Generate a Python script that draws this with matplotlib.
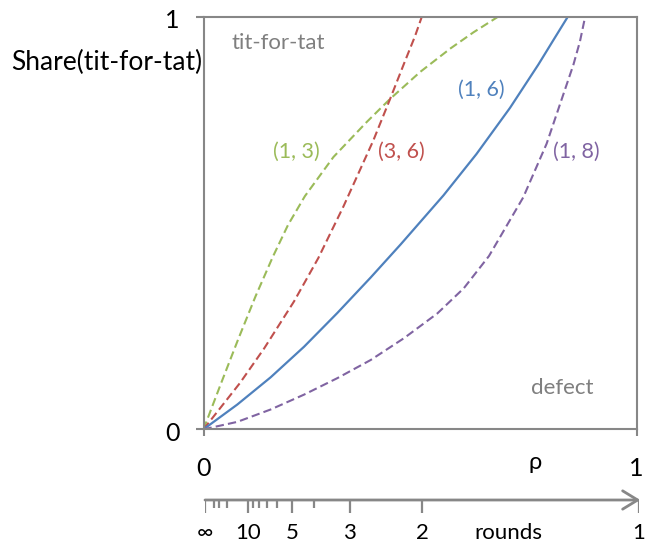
import numpy as np
import matplotlib.pyplot as plt

# Fuente parecida a Calibri
plt.rcParams.update({'font.family': ['Lato', 'DejaVu Sans'], 'font.size': 16})

GRIS = '#878787'
GRIS_TEXTO = '#7f7f7f'

# Curvas: rho -> Share(tit-for-tat)
rho_13 = [0, 0.04, 0.08, 0.12, 0.16, 0.195, 0.234, 0.30, 0.377, 0.43, 0.50, 0.57, 0.623, 0.68]
share_13 = [0, 0.11, 0.218, 0.322, 0.418, 0.495, 0.565, 0.66, 0.745, 0.80, 0.866, 0.923, 0.962, 1.0]

rho_36 = [0, 0.084, 0.14, 0.209, 0.265, 0.323, 0.392, 0.4305, 0.465, 0.488, 0.504]
share_36 = [0, 0.112, 0.196, 0.31, 0.415, 0.54, 0.70, 0.80, 0.892, 0.952, 1.0]

rho_16 = [0, 0.078, 0.155, 0.232, 0.309, 0.386, 0.455, 0.554, 0.63, 0.7075, 0.773, 0.8075, 0.841]
share_16 = [0, 0.06, 0.126, 0.2, 0.282, 0.368, 0.448, 0.567, 0.667, 0.779, 0.884, 0.943, 1.0]

rho_18 = [0, 0.078, 0.155, 0.232, 0.309, 0.386, 0.463, 0.54, 0.601, 0.659, 0.738, 0.792, 0.854, 0.869, 0.879]
share_18 = [0, 0.018, 0.048, 0.084, 0.124, 0.168, 0.221, 0.281, 0.342, 0.42, 0.562, 0.692, 0.884, 0.94, 0.99]

etiquetas = ['(1, 3)', '(3, 6)', '(1, 6)', '(1, 8)']

# Eje de rondas: rho = 1 / rondas
rondas_largas = [np.inf, 10, 5, 3, 2, 1]
rondas_texto = ['∞', '10', '5', '3', '2', '1']
rondas_cortas = [50, 30, 20, 9, 8, 7, 6, 4]

fig = plt.figure(figsize=(6.45, 5.44), dpi=100)
ax = fig.add_axes([203.5 / 645, (544 - 429.3) / 544, 433.2 / 645, 412.6 / 544])
ax.set_xlim(0, 1)
ax.set_ylim(0, 1)
for s in ax.spines.values():
    s.set_color(GRIS)
    s.set_linewidth(1.5)

guion = (0, (4, 2))
ax.plot(rho_13, share_13, color='#9BBB59', lw=1.5, ls=guion)
ax.plot(rho_36, share_36, color='#C0504D', lw=1.5, ls=guion)
ax.plot(rho_16, share_16, color='#4F81BD', lw=1.6)
ax.plot(rho_18, share_18, color='#8064A2', lw=1.5, ls=guion)

# etiquetas de las curvas
ax.text(0.215, 0.673, etiquetas[0], color='#9BBB59', ha='center', va='center', fontsize=15.5)
ax.text(0.4575, 0.673, etiquetas[1], color='#C0504D', ha='center', va='center', fontsize=15.5)
ax.text(0.642, 0.822, etiquetas[2], color='#4F81BD', ha='center', va='center', fontsize=15.5)
ax.text(0.86, 0.673, etiquetas[3], color='#8064A2', ha='center', va='center', fontsize=15.5)

ax.text(0.1736, 0.9355, 'tit-for-tat', color=GRIS_TEXTO, ha='center', va='center', fontsize=16)
ax.text(0.828, 0.0994, 'defect', color=GRIS_TEXTO, ha='center', va='center', fontsize=16)

# ejes
ax.set_xticks([0, 1])
ax.set_yticks([0, 1])
ax.set_xticklabels([])
ax.set_yticklabels([])
ax.tick_params(axis='x', direction='out', length=5, width=1.5, color=GRIS)
ax.tick_params(axis='y', direction='out', length=6, width=1.5, color=GRIS)

yt = ax.get_yaxis_transform()
ax.text(-0.0727, 0.99, '1', transform=yt, ha='center', va='center', fontsize=18)
ax.text(-0.0727, -0.01, '0', transform=yt, ha='center', va='center', fontsize=18)
ax.text(-0.445, 0.89, 'Share(tit-for-tat)', transform=yt, ha='left', va='center', fontsize=19)

ax.text(0, -0.095, '0', ha='center', va='center', fontsize=18, clip_on=False)
ax.text(1, -0.095, '1', ha='center', va='center', fontsize=18, clip_on=False)
ax.text(0.7665, -0.08, 'ρ', ha='center', va='center', fontsize=17, clip_on=False)

# eje de rondas debajo
ax2 = fig.add_axes([205 / 645, 4 / 544, 434 / 645, 60 / 544])
ax2.set_xlim(0, 1)
ax2.set_ylim(-40, 20)
ax2.axis('off')
ax2.annotate('', xy=(1.003, 0), xytext=(0, 0), annotation_clip=False,
             arrowprops=dict(arrowstyle='->,head_length=0.9,head_width=0.55', lw=2,
                             color=GRIS, shrinkA=0, shrinkB=0, mutation_scale=12))
pos_largas = 1 / np.array(rondas_largas, dtype=float)
pos_cortas = 1 / np.array(rondas_cortas, dtype=float)
ax2.vlines(pos_largas, -13, 0, color=GRIS, lw=1.6)
ax2.vlines(pos_cortas, -8, 0, color=GRIS, lw=1.6)
for p, t in zip(pos_largas, rondas_texto):
    ax2.text(p, -33, t, ha='center', va='center', fontsize=16)
ax2.text(0.698, -33, 'rounds', ha='center', va='center', fontsize=16)

plt.savefig('out.png', dpi=100)
